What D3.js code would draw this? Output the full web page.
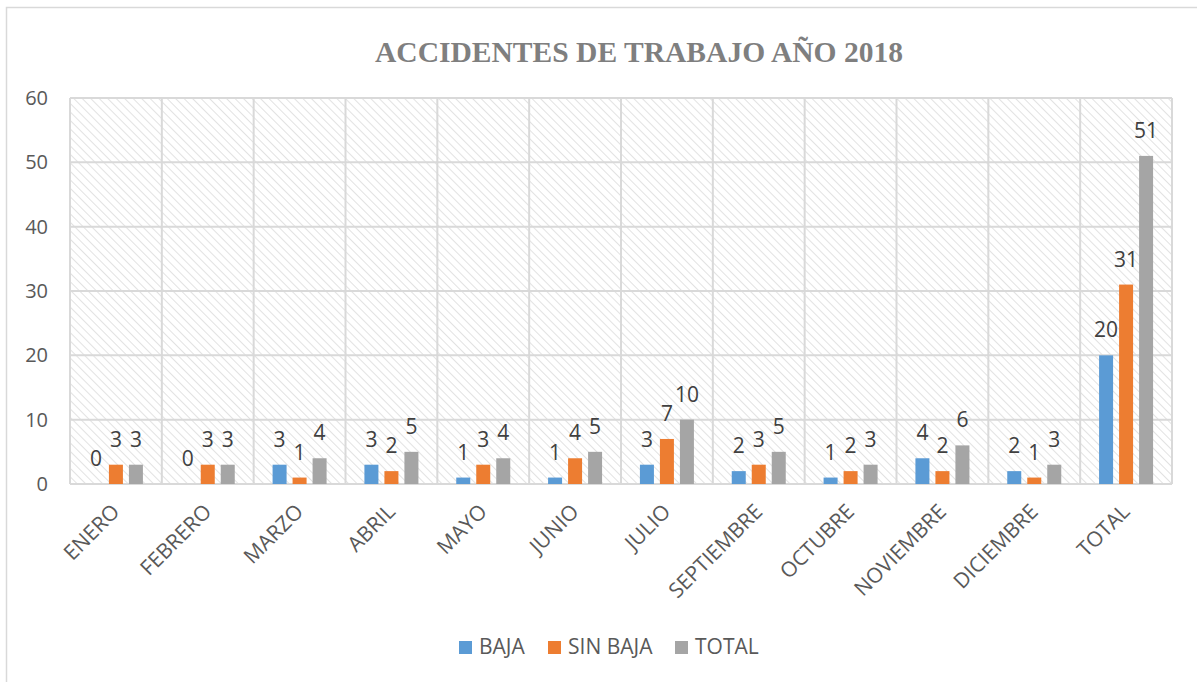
<!DOCTYPE html>
<html>
<head>
  <meta charset="utf-8">
  <script src="https://d3js.org/d3.v7.min.js"></script>
  <style>
    body { margin: 0; background: #fff; }
    svg { display: block; }
  </style>
</head>
<body>
<script>
  // data
  var months = ["ENERO", "FEBRERO", "MARZO", "ABRIL", "MAYO", "JUNIO", "JULIO",
    "SEPTIEMBRE", "OCTUBRE", "NOVIEMBRE", "DICIEMBRE", "TOTAL"];
  var baja = [0, 0, 3, 3, 1, 1, 3, 2, 1, 4, 2, 20];
  var sinBaja = [3, 3, 1, 2, 3, 4, 7, 3, 2, 2, 1, 31];
  var total = [3, 3, 4, 5, 4, 5, 10, 5, 3, 6, 3, 51];
  var seriesNames = ["BAJA", "SIN BAJA", "TOTAL"];
  var yTicks = [0, 10, 20, 30, 40, 50, 60];

  var series = [
    {name: seriesNames[0], values: baja, color: "#5b9bd5"},
    {name: seriesNames[1], values: sinBaja, color: "#ed7d31"},
    {name: seriesNames[2], values: total, color: "#a5a5a5"}
  ];

  var W = 1197, H = 682;
  var plot = {left: 70, right: 1172, top: 98, bottom: 484};
  var font = "'Open Sans', 'Noto Sans', sans-serif";

  var svg = d3.select("body").append("svg")
    .attr("width", W).attr("height", H);

  // hatch pattern for the plot area
  var defs = svg.append("defs");
  defs.append("pattern")
      .attr("id", "hatch")
      .attr("patternUnits", "userSpaceOnUse")
      .attr("width", 6).attr("height", 6)
      .attr("patternTransform", "rotate(-45)")
    .append("line")
      .attr("x1", 0).attr("y1", 0).attr("x2", 0).attr("y2", 6)
      .attr("stroke", "#e2e2e2").attr("stroke-width", 2);

  // chart border (only left/top visible in the picture)
  svg.append("rect")
    .attr("x", 6.5).attr("y", 7.5)
    .attr("width", 1200).attr("height", 700)
    .attr("fill", "none").attr("stroke", "#d9d9d9").attr("stroke-width", 1.5);

  svg.append("text")
    .attr("x", 639).attr("y", 62)
    .attr("text-anchor", "middle")
    .attr("textLength", 528).attr("lengthAdjust", "spacingAndGlyphs")
    .style("font-family", "'Liberation Serif', 'DejaVu Serif', serif")
    .style("font-weight", "bold")
    .style("font-size", "30px")
    .style("fill", "#7f7f7f")
    .text("ACCIDENTES DE TRABAJO AÑO 2018");

  var x = d3.scaleBand().domain(months).range([plot.left, plot.right]);
  var y = d3.scaleLinear().domain([0, 60]).range([plot.bottom, plot.top]);
  var barW = 14, barStep = 20;

  svg.append("rect")
    .attr("x", plot.left).attr("y", plot.top)
    .attr("width", plot.right - plot.left).attr("height", plot.bottom - plot.top)
    .attr("fill", "url(#hatch)");

  // horizontal grid
  svg.append("g").selectAll("line").data(yTicks).join("line")
    .attr("x1", plot.left).attr("x2", plot.right)
    .attr("y1", function (d) { return y(d); }).attr("y2", function (d) { return y(d); })
    .attr("stroke", "#d9d9d9").attr("stroke-width", 2);

  // vertical grid
  var vx = months.map(function (m) { return x(m); }).concat([plot.right]);
  svg.append("g").selectAll("line").data(vx).join("line")
    .attr("x1", function (d) { return d; }).attr("x2", function (d) { return d; })
    .attr("y1", plot.top).attr("y2", plot.bottom)
    .attr("stroke", "#d9d9d9").attr("stroke-width", 2);

  // y axis labels
  var yAxis = d3.axisLeft(y).tickValues(yTicks).tickSize(0).tickPadding(0);
  var gy = svg.append("g").attr("transform", "translate(48,0)").call(yAxis);
  gy.select(".domain").remove();
  gy.selectAll("text")
    .style("font-family", font).style("font-size", "20px").style("fill", "#595959");

  // x axis labels
  var xAxis = d3.axisBottom(x).tickSize(0).tickPadding(0);
  var gx = svg.append("g").attr("transform", "translate(0," + plot.bottom + ")").call(xAxis);
  gx.select(".domain").remove();
  gx.selectAll("text")
    .attr("text-anchor", "end")
    .attr("dy", null).attr("y", 0)
    .attr("transform", "translate(5,29) rotate(-45)")
    .style("font-family", font).style("font-size", "21px").style("fill", "#595959");

  // bars + labels
  series.forEach(function (s, si) {
    var off = (si - 1) * barStep - barW / 2;
    var g = svg.append("g");
    g.selectAll("rect").data(s.values).join("rect")
      .attr("x", function (d, i) { return x(months[i]) + x.bandwidth() / 2 + off; })
      .attr("y", function (d) { return y(d); })
      .attr("width", barW)
      .attr("height", function (d) { return y(0) - y(d); })
      .attr("fill", s.color);
    g.selectAll("text").data(s.values).join("text")
      .attr("x", function (d, i) { return x(months[i]) + x.bandwidth() / 2 + off + barW / 2; })
      .attr("y", function (d) { return y(d) - 18; })
      .attr("text-anchor", "middle")
      .style("font-family", font).style("font-size", "21px").style("fill", "#404040")
      .text(function (d) { return d; });
  });

  // legend
  var legX = [459, 548, 675];
  var leg = svg.append("g").selectAll("g").data(series).join("g")
    .attr("transform", function (d, i) { return "translate(" + legX[i] + ",641)"; });
  leg.append("rect").attr("width", 13).attr("height", 13)
    .attr("fill", function (d) { return d.color; });
  leg.append("text").attr("x", 20).attr("y", 13)
    .style("font-family", font).style("font-size", "21px").style("fill", "#595959")
    .text(function (d) { return d.name; });
</script>
</body>
</html>
